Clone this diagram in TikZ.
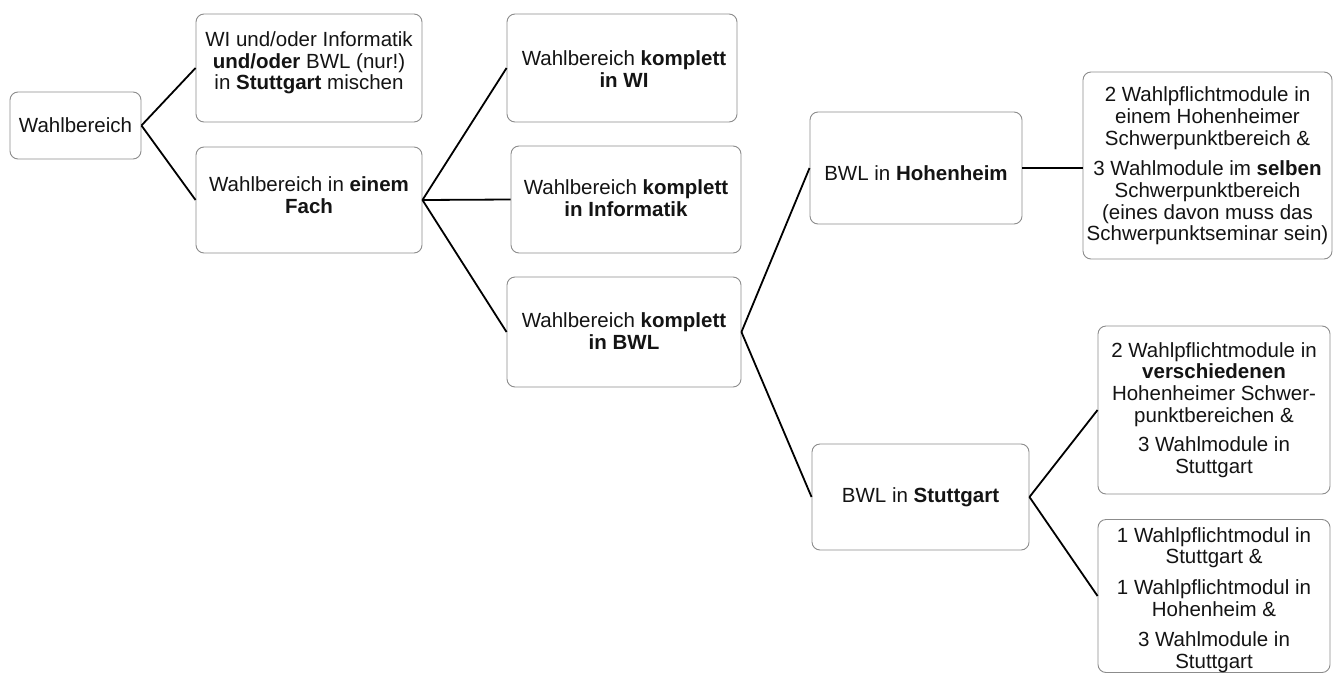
\documentclass[tikz,border=0pt]{standalone}
\usepackage{fontspec}
\setmainfont{Liberation Sans}
\definecolor{boxline}{RGB}{140,140,140}
\definecolor{txt}{RGB}{20,20,20}
\begin{document}
\begin{tikzpicture}[x=1pt,y=-1pt,
  box/.style={draw=boxline, line width=0.9pt, rounded corners=8pt, fill=white, inner sep=0pt, rectangle},
  lbl/.style={align=center, text=txt, inner sep=0pt, font=\fontsize{20.5}{21.7}\selectfont},
  conn/.style={draw=black, line width=1.8pt}]
\useasboundingbox (0,0) rectangle (1333,675);
\fill[white] (0,0) rectangle (1333,675);
% boxes
\node[box, minimum width=131pt, minimum height=67pt]  (root) at (75.5,125.5) {};
\node[box, minimum width=226pt, minimum height=108pt] (mix)  at (309,68) {};
\node[box, minimum width=226pt, minimum height=106pt] (fach) at (309,200) {};
\node[box, minimum width=230pt, minimum height=108pt] (wi)   at (622,68) {};
\node[box, minimum width=230pt, minimum height=107pt] (inf)  at (626,199.5) {};
\node[box, minimum width=234pt, minimum height=110pt] (bwl)  at (624,332) {};
\node[box, minimum width=212pt, minimum height=112pt] (hoh)  at (916,168) {};
\node[box, minimum width=249pt, minimum height=187pt] (hohR) at (1207.5,165.5) {};
\node[box, minimum width=217pt, minimum height=106pt] (stu)  at (920.5,497) {};
\node[box, minimum width=232pt, minimum height=168pt] (stuA) at (1214,410) {};
\node[box, minimum width=232pt, minimum height=153pt] (stuB) at (1214,596) {};
% texts
\node[lbl] (troot) at (75.5,125) {Wahlbereich};
\node[lbl] (tmix) at (309,63) {WI und/oder Informatik\\ \textbf{und/oder} BWL (nur!)\\ in \textbf{Stuttgart} mischen};
\node[lbl] (tfach) at (309,195) {Wahlbereich in \textbf{einem}\\ \textbf{Fach}};
\node[lbl] (twi) at (624,69) {Wahlbereich \textbf{komplett}\\ \textbf{in WI}};
\node[lbl] (tinf) at (626,198.5) {Wahlbereich \textbf{komplett}\\ \textbf{in Informatik}};
\node[lbl] (tbwl) at (624,331) {Wahlbereich \textbf{komplett}\\ \textbf{in BWL}};
\node[lbl] (thoh) at (916,173) {BWL in \textbf{Hohenheim}};
\node[lbl] (thohR) at (1207.5,166) {2 Wahlpflichtmodule in\\ einem Hohenheimer\\ Schwerpunktbereich \&\\[9pt] 3 Wahlmodule im \textbf{selben}\\ Schwerpunktbereich\\ (eines davon muss das\\ Schwerpunktseminar sein)};
\node[lbl] (tstu) at (920.5,497) {BWL in \textbf{Stuttgart}};
\node[lbl] (tstuA) at (1214,410) {2 Wahlpflichtmodule in\\ \textbf{verschiedenen}\\ Hohenheimer Schwer-\\ punktbereichen \&\\[8pt] 3 Wahlmodule in\\ Stuttgart};
\node[lbl] (tstuB) at (1214,600) {1 Wahlpflichtmodul in\\ Stuttgart \&\\[9pt] 1 Wahlpflichtmodul in\\ Hohenheim \&\\[9pt] 3 Wahlmodule in\\ Stuttgart};
% connectors
\draw[conn] (root.east) -- (mix.west);
\draw[conn] (root.east) -- (fach.west);
\draw[conn] (fach.east) -- (wi.west);
\draw[conn] (fach.east) -- (inf.west);
\draw[conn] (fach.east) -- (bwl.west);
\draw[conn] (bwl.east) -- (hoh.west);
\draw[conn] (bwl.east) -- (stu.west);
\draw[conn] (hoh.east) -- (hoh.east -| hohR.west);
\draw[conn] (stu.east) -- (stuA.west);
\draw[conn] (stu.east) -- (stuB.west);
\end{tikzpicture}
\end{document}
